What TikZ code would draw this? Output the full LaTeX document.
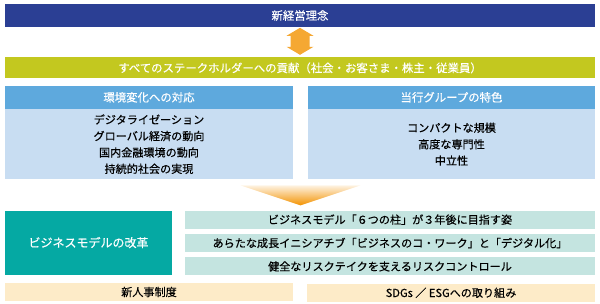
\documentclass[tikz,border=0pt]{standalone}
\usepackage{fontspec}
\setmainfont{Noto Sans CJK JP}[FakeBold=0.4]
\usetikzlibrary{shapes,arrows,positioning,calc}
\definecolor{navy}{HTML}{2B3F94}
\definecolor{olive}{HTML}{C3C81F}
\definecolor{headblue}{HTML}{5EA9DD}
\definecolor{bodyblue}{HTML}{C8DDF2}
\definecolor{teal}{HTML}{05A9A3}
\definecolor{rowteal}{HTML}{C4E4E0}
\definecolor{beige}{HTML}{FDEBC8}
\definecolor{arroworange}{HTML}{F5A833}
\definecolor{triorange}{HTML}{F39200}

\begin{document}
\begin{tikzpicture}[x=1pt, y=-1pt,
    bar/.style={rectangle, minimum width=590pt, minimum height=23pt, inner sep=0pt, text=white, font=\fontsize{11.4}{13}\selectfont},
    head/.style={rectangle, fill=headblue, text=white, minimum width=288pt, minimum height=23pt, inner sep=0pt, font=\fontsize{11.4}{13}\selectfont},
    body/.style={rectangle, fill=bodyblue, minimum width=288pt, minimum height=70pt, inner sep=0pt, align=center, font=\fontsize{11.1}{16.4}\selectfont},
    row/.style={rectangle, fill=rowteal, minimum width=410pt, minimum height=18pt, inner sep=0pt, font=\fontsize{11.1}{13}\selectfont},
    foot/.style={rectangle, fill=beige, minimum width=288pt, minimum height=18pt, inner sep=0pt, font=\fontsize{11.1}{13}\selectfont}
]
    \useasboundingbox (0,0) rectangle (600,303);

    \node [bar, fill=navy] (rinen) at (300,15.5) {新経営理念};
    \node [bar, fill=olive, minimum height=21pt, below=30pt of rinen] (kouken) {すべてのステークホルダーへの貢献（社会・お客さま・株主・従業員）};

    % double arrow
    \coordinate (sougo) at ($(rinen.south)!0.47!(kouken.north)$);
    \fill [arroworange] ($(sougo)+(0,-13.5)$) -- ++(13.5,8) -- ++(-4,0) -- ++(0,11) -- ++(4,0) -- ++(-13.5,8) -- ++(-13.5,-8) -- ++(4,0) -- ++(0,-11) -- ++(-4,0) -- cycle;

    \node [head, below right=7pt and 0pt of kouken.south west] (henka) {環境変化への対応};
    \node [body, below=0pt of henka] (henkabody) {デジタライゼーション\\グローバル経済の動向\\国内金融環境の動向\\持続的社会の実現};
    \node [head, minimum width=287pt, below left=7pt and 0pt of kouken.south east] (tokushoku) {当行グループの特色};
    \node [body, minimum width=287pt, below=0pt of tokushoku] (tokushokubody) {コンパクトな規模\\高度な専門性\\中立性};

    % down arrow
    \coordinate (tri) at ($($(henkabody.south east)!0.5!(tokushokubody.south west)$)+(0,6)$);
    \shade [top color=triorange!12, bottom color=triorange] ($(tri)+(-60,0)$) -- ($(tri)+(60,0)$) -- ($(tri)+(0,20)$) -- cycle;

    \node [rectangle, fill=teal, text=white, minimum width=167pt, minimum height=64pt, inner sep=0pt, font=\fontsize{12}{14}\selectfont, below right=31pt and 0pt of henkabody.south west] (kaikaku) {ビジネスモデルの改革};
    \node [row, below left=31pt and 0pt of tokushokubody.south east] (hashira) {ビジネスモデル「６つの柱」が３年後に目指す姿};
    \node [row, below=5pt of hashira] (initiative) {あらたな成長イニシアチブ「ビジネスのコ・ワーク」と「デジタル化」};
    \node [row, below=5pt of initiative] (risk) {健全なリスクテイクを支えるリスクコントロール};

    \node [foot, below right=8pt and 0pt of kaikaku.south west] (jinji) {新人事制度};
    \node [foot, below left=8pt and 0pt of risk.south east] (sdgs) {SDGs ／ ESGへの取り組み};
\end{tikzpicture}
\end{document}
